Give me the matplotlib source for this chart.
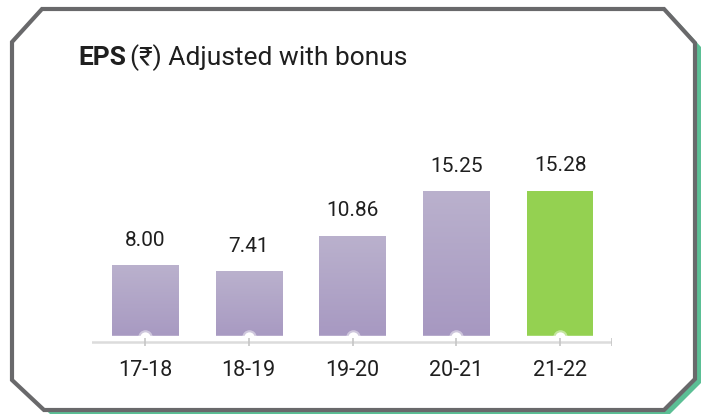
import numpy as np
import matplotlib
matplotlib.use("Agg")
import matplotlib.pyplot as plt
from matplotlib.patches import Polygon

# data
years = ["17-18", "18-19", "19-20", "20-21", "21-22"]
eps = [8.00, 7.41, 10.86, 15.25, 15.28]
highlight = [False, False, False, False, True]

FONT = ["Roboto", "DejaVu Sans"]
plt.rcParams["font.family"] = FONT

W, H = 705, 416
fig = plt.figure(figsize=(W / 100, H / 100), dpi=100)

# card frame drawn in pixel coords
bg = fig.add_axes([0, 0, 1, 1])
bg.set_xlim(0, W)
bg.set_ylim(H, 0)
bg.axis("off")
card = [(42, 9), (664, 9), (695, 43), (695, 379), (664, 410), (44, 410), (12, 380), (12, 42)]
shadow = [(x + 6, y + 4) for x, y in card]
bg.add_patch(Polygon(shadow, closed=True, fc="#5bbf95", ec="none", zorder=1))
bg.add_patch(Polygon(card, closed=True, fc="white", ec="#69696b", lw=3, zorder=2, joinstyle="miter"))

t1 = bg.text(78, 65, "EPS", fontsize=19, fontweight="bold", color="#1f1f1f", va="baseline", zorder=3)
fig.canvas.draw()
bb = t1.get_window_extent()
bg.text(bb.x1 + 4, 65, "(\u20b9) Adjusted with bonus", fontsize=19, color="#1f1f1f",
        va="baseline", zorder=3)

# chart area: 0 at y=346.6 px, 10.2 px per unit
y0, y1 = -0.5, 20
left, right = 92, 612
bot_px = 346.6 + 0.5 * 10.2
top_px = 346.6 - 20 * 10.2
ax = fig.add_axes([left / W, (H - bot_px) / H, (right - left) / W, (bot_px - top_px) / H])
ax.set_xlim(-0.51, 4.5)
ax.set_ylim(y0, y1)
ax.axis("off")

x = np.arange(len(years))
bars = ax.bar(x, eps, width=0.64, color="none", zorder=2)
grad = np.linspace(0, 1, 256).reshape(-1, 1)
purple = matplotlib.colors.LinearSegmentedColormap.from_list("p", ["#a596c0", "#bab1cd"])
for b, hl in zip(bars, highlight):
    if hl:
        b.set_facecolor("#94d151")
    else:
        im = ax.imshow(grad, cmap=purple, aspect="auto", origin="lower", zorder=2,
                       extent=[b.get_x(), b.get_x() + b.get_width(), 0, b.get_height()])
        im.set_clip_path(b)

# white gap under bars, axis line, soft bumps and ticks
ax.axhspan(y0, 1.04, color="white", zorder=3)
ax.scatter(x, [0.95] * len(x), s=110, color="white", alpha=0.45, zorder=3, linewidths=0)
ax.scatter(x, [0.9] * len(x), s=55, color="white", zorder=3, linewidths=0)
ax.axhline(0.45, color="#dcdcdc", lw=1.8, zorder=4)
ax.vlines(list(x) + [4.5], 0.1, 0.8, color="#c6c6c6", lw=1.2, zorder=4)

for xi, v in zip(x, eps):
    ax.annotate(f"{v:.2f}", (xi, v), xytext=(0, 14), textcoords="offset points",
                ha="center", va="baseline", fontsize=15, color="#1f1f1f", zorder=5)
    ax.text(xi, -1.3, years[xi], ha="center", va="top", fontsize=15.5, color="#1f1f1f")

fig.savefig("out.png", dpi=100)
